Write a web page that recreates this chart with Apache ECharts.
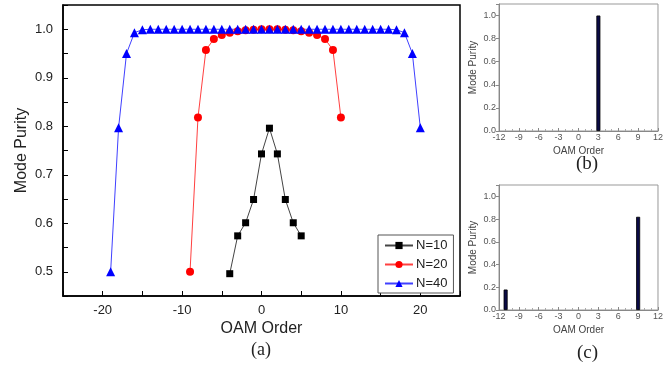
<!DOCTYPE html>
<html>
<head>
<meta charset="utf-8">
<script src="https://cdn.jsdelivr.net/npm/echarts@6/dist/echarts.min.js"></script>
<style>html,body{margin:0;padding:0;background:#fff;}#c{width:666px;height:370px;}</style>
</head>
<body>
<div id="c"></div>
<script>
// ---- data ----
const n10X = [-4, -3, -2, -1, 0, 1, 2, 3, 4, 5];
const n10Y = [0.496, 0.574, 0.601, 0.649, 0.743, 0.796, 0.743, 0.649, 0.601, 0.574];

const n20X = [-9, -8, -7, -6, -5, -4, -3, -2, -1, 0, 1, 2, 3, 4, 5, 6, 7, 8, 9, 10];
const n20Y = [0.500, 0.818, 0.957, 0.980, 0.988, 0.993, 0.996, 0.998, 0.999, 1.000,
              1.000, 1.000, 0.999, 0.998, 0.996, 0.993, 0.988, 0.980, 0.957, 0.818];

const n40X = [-19, -18, -17, -16, -15, -14, -13, -12, -11, -10, -9, -8, -7, -6, -5, -4, -3, -2, -1, 0,
              1, 2, 3, 4, 5, 6, 7, 8, 9, 10, 11, 12, 13, 14, 15, 16, 17, 18, 19, 20];
const n40Y = [0.500, 0.797, 0.950, 0.993, 0.999, 1.000, 1.000, 1.000, 1.000, 1.000,
              1.000, 1.000, 1.000, 1.000, 1.000, 1.000, 1.000, 1.000, 1.000, 1.000,
              1.000, 1.000, 1.000, 1.000, 1.000, 1.000, 1.000, 1.000, 1.000, 1.000,
              1.000, 1.000, 1.000, 1.000, 1.000, 1.000, 0.999, 0.993, 0.950, 0.797];

const seriesNames = ['N=10', 'N=20', 'N=40'];

const bX = [3];
const bY = [1.0];
const cX = [-11, 9];
const cY = [0.18, 0.82];

const panelLabels = ['(a)', '(b)', '(c)'];
const axisTitleX = 'OAM Order';
const axisTitleY = 'Mode Purity';

function pairs(xs, ys) { return xs.map((x, i) => [x, ys[i]]); }

const sans = 'Liberation Sans, Arial, sans-serif';
const serif = 'Liberation Serif, Times New Roman, serif';

const smallX = (gi) => ({
  type: 'value', gridIndex: gi, min: -12, max: 12, interval: 3,
  name: axisTitleX, nameLocation: 'middle', nameGap: 15, nameMoveOverlap: false,
  nameTextStyle: { fontSize: 10, color: '#444', fontFamily: sans },
  axisLine: { show: true, onZero: false, lineStyle: { color: '#888', width: 1 } },
  axisTick: { show: true, inside: true, length: 3, lineStyle: { color: '#888' } },
  minorTick: { show: true, splitNumber: 3, length: 2, lineStyle: { color: '#aaa' } },
  axisLabel: { fontSize: 9, color: '#555', margin: 2, fontFamily: sans },
  splitLine: { show: false }
});
const smallY = (gi) => ({
  type: 'value', gridIndex: gi, min: 0, max: 1.1, interval: 0.2,
  name: axisTitleY, nameLocation: 'middle', nameGap: 21, nameMoveOverlap: false,
  nameTextStyle: { fontSize: 10, color: '#444', fontFamily: sans },
  axisLine: { show: true, onZero: false, lineStyle: { color: '#888', width: 1 } },
  axisTick: { show: true, inside: false, length: 3, lineStyle: { color: '#888' } },
  axisLabel: { fontSize: 9, color: '#555', margin: 3, fontFamily: sans,
    formatter: v => (v > 1.05 ? '' : v.toFixed(1)) },
  splitLine: { show: false }
});

const chart = echarts.init(document.getElementById('c'), null, { renderer: 'canvas' });
chart.setOption({
  animation: false,
  backgroundColor: '#fff',
  textStyle: { fontFamily: sans },
  grid: [
    { left: 63, top: 5, width: 397, height: 291, show: true, borderColor: '#000', borderWidth: 1.5 },
    { left: 499, top: 4, width: 166, height: 127, show: true, borderColor: '#999', borderWidth: 1 },
    { left: 499, top: 185, width: 166, height: 125, show: true, borderColor: '#999', borderWidth: 1 }
  ],
  xAxis: [
    {
      type: 'value', gridIndex: 0, min: -25, max: 25, interval: 5,
      name: axisTitleX, nameLocation: 'middle', nameGap: 25, nameMoveOverlap: false,
      nameTextStyle: { fontSize: 16, color: '#222', fontFamily: sans },
      axisLine: { show: true, onZero: false, lineStyle: { color: '#000', width: 1.5 } },
      axisTick: { show: true, inside: true, length: 5, lineStyle: { color: '#000' } },
      axisLabel: { fontSize: 13, color: '#222', margin: 8, fontFamily: sans,
        formatter: v => (Math.round(v) % 10 === 0 ? String(Math.round(v)) : '') },
      splitLine: { show: false }
    },
    smallX(1), smallX(2)
  ],
  yAxis: [
    {
      type: 'value', gridIndex: 0, min: 0.45, max: 1.05, interval: 0.05,
      name: axisTitleY, nameLocation: 'middle', nameGap: 33, nameMoveOverlap: false,
      nameTextStyle: { fontSize: 16, color: '#222', fontFamily: sans },
      axisLine: { show: true, onZero: false, lineStyle: { color: '#000', width: 1.5 } },
      axisTick: { show: true, inside: true, length: 5, lineStyle: { color: '#000' } },
      axisLabel: { fontSize: 13, color: '#222', margin: 10, fontFamily: sans,
        formatter: v => { const r = Math.round(v * 100); return r % 10 === 0 ? (r / 100).toFixed(1) : ''; } },
      splitLine: { show: false }
    },
    smallY(1), smallY(2)
  ],
  legend: {
    data: seriesNames,
    orient: 'vertical', left: 378, top: 235,
    itemWidth: 28, itemHeight: 9, itemGap: 6,
    padding: [4, 6, 3, 6],
    borderColor: '#555', borderWidth: 1, backgroundColor: '#fff',
    textStyle: { fontSize: 13, color: '#222', fontFamily: sans, padding: [0, 0, 0, -2] }
  },
  series: [
    { name: seriesNames[0], type: 'line', xAxisIndex: 0, yAxisIndex: 0, data: pairs(n10X, n10Y),
      symbol: 'rect', symbolSize: 7, itemStyle: { color: '#000' },
      lineStyle: { color: '#444', width: 1 } },
    { name: seriesNames[1], type: 'line', xAxisIndex: 0, yAxisIndex: 0, data: pairs(n20X, n20Y),
      symbol: 'circle', symbolSize: 8, itemStyle: { color: '#ff0000' },
      lineStyle: { color: '#ff4040', width: 1 } },
    { name: seriesNames[2], type: 'line', xAxisIndex: 0, yAxisIndex: 0, data: pairs(n40X, n40Y),
      symbol: 'triangle', symbolSize: 9, itemStyle: { color: '#0000ff' },
      lineStyle: { color: '#4040ff', width: 1 } },
    { type: 'bar', xAxisIndex: 1, yAxisIndex: 1, data: pairs(bX, bY), barWidth: 4,
      itemStyle: { color: '#0a0a45', borderColor: '#000', borderWidth: 0.8 } },
    { type: 'bar', xAxisIndex: 2, yAxisIndex: 2, data: pairs(cX, cY), barWidth: 4,
      itemStyle: { color: '#0a0a45', borderColor: '#000', borderWidth: 0.8 } }
  ],
  graphic: [
    { type: 'text', left: 262 - 11, top: 341, style: { text: panelLabels[0], font: '18px ' + serif, fill: '#222' } },
    { type: 'text', left: 587 - 11, top: 155, style: { text: panelLabels[1], font: '19px ' + serif, fill: '#222' } },
    { type: 'text', left: 587 - 10, top: 344, style: { text: panelLabels[2], font: '19px ' + serif, fill: '#222' } }
  ]
});
</script>
</body>
</html>
